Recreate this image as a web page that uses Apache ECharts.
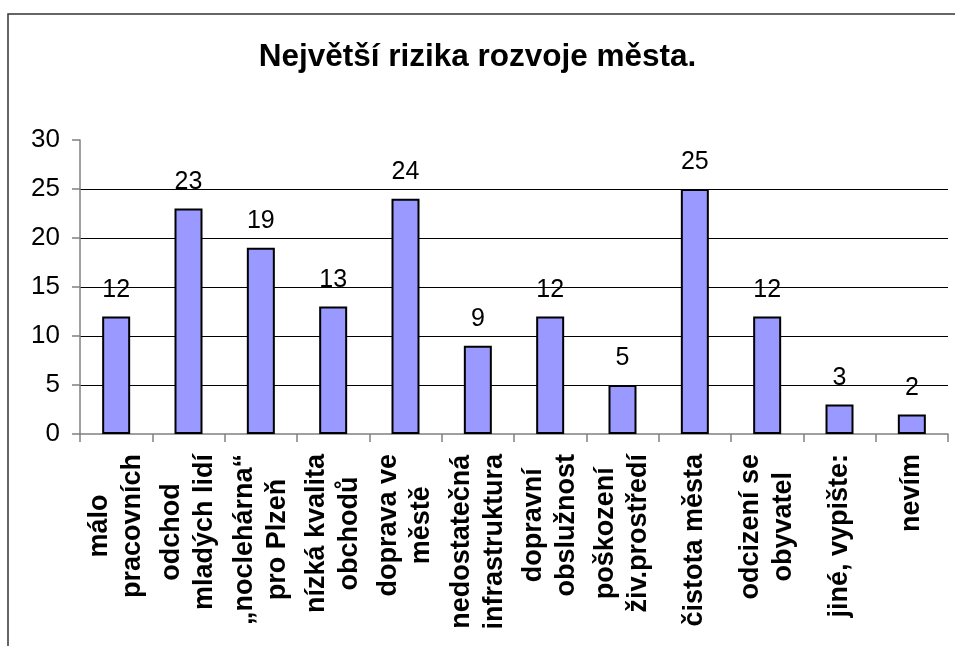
<!DOCTYPE html>
<html lang="cs">
<head>
    <meta charset="UTF-8">
    <title>Největší rizika rozvoje města.</title>
    <script src="https://cdn.jsdelivr.net/npm/echarts@6/dist/echarts.min.js"></script>
    <style>
        html, body { margin: 0; padding: 0; background: #fff; }
        #chart { width: 955px; height: 646px; }
    </style>
</head>
<body>
<div id="chart"></div>
<script type="text/javascript">
    // kategorie a hodnoty
    var categories = [
        'málo\npracovních',
        'odchod\nmladých lidí',
        '„noclehárna“\npro Plzeň',
        'nízká kvalita\nobchodů',
        'doprava ve\nměstě',
        'nedostatečná\ninfrastruktura',
        'dopravní\nobslužnost',
        'poškození\nživ.prostředí',
        'čistota města',
        'odcizení se\nobyvatel',
        'jiné, vypište:',
        'nevím'
    ];
    var values = [12, 23, 19, 13, 24, 9, 12, 5, 25, 12, 3, 2];
    var yTicks = [0, 5, 10, 15, 20, 25, 30];

    var font = 'Arial, "Liberation Sans", sans-serif';
    var myChart = echarts.init(document.getElementById('chart'));

    var option = {
        animation: false,
        backgroundColor: '#fff',
        title: {
            text: 'Největší rizika rozvoje města.',
            left: 'center',
            top: 36,
            textStyle: { fontFamily: font, fontSize: 31.5, fontWeight: 'bold', color: '#000' }
        },
        // ramecek grafu
        graphic: [{
            type: 'polyline',
            shape: { points: [[8, 646], [8, 14], [955, 14]] },
            style: { stroke: '#333', lineWidth: 1.5, fill: null }
        }],
        grid: { left: 80, right: 7, top: 140, bottom: 212, containLabel: false },
        xAxis: {
            type: 'category',
            data: categories,
            axisLine: { lineStyle: { color: '#808080', width: 1.5 } },
            axisTick: { show: true, length: 8, lineStyle: { color: '#808080', width: 1.5 } },
            axisLabel: {
                interval: 0,
                rotate: 90,
                margin: 20,
                formatter: function (v) {
                    return v.split('\n').map(function (s) { return '{c|' + s + '}'; }).join('\n');
                },
                rich: {
                    c: { align: 'center', fontFamily: font, fontSize: 27, fontWeight: 'bold', color: '#000', lineHeight: 33 }
                }
            }
        },
        yAxis: {
            type: 'value',
            min: yTicks[0],
            max: yTicks[yTicks.length - 1],
            interval: 5,
            axisLine: { show: true, lineStyle: { color: '#808080', width: 1.5 } },
            axisTick: { show: true, length: 8, lineStyle: { color: '#808080', width: 1.5 } },
            axisLabel: { margin: 20, fontFamily: font, fontSize: 26, color: '#000' },
            splitLine: { show: true, showMinLine: false, showMaxLine: false, lineStyle: { color: '#000', width: 1 } }
        },
        series: [{
            type: 'bar',
            data: values,
            barWidth: 28,
            itemStyle: { color: '#9999ff', borderColor: '#000', borderWidth: 2 },
            label: {
                show: true,
                position: 'top',
                distance: 14,
                fontFamily: font,
                fontSize: 25,
                color: '#000'
            }
        }]
    };
    myChart.setOption(option);
</script>
</body>
</html>
